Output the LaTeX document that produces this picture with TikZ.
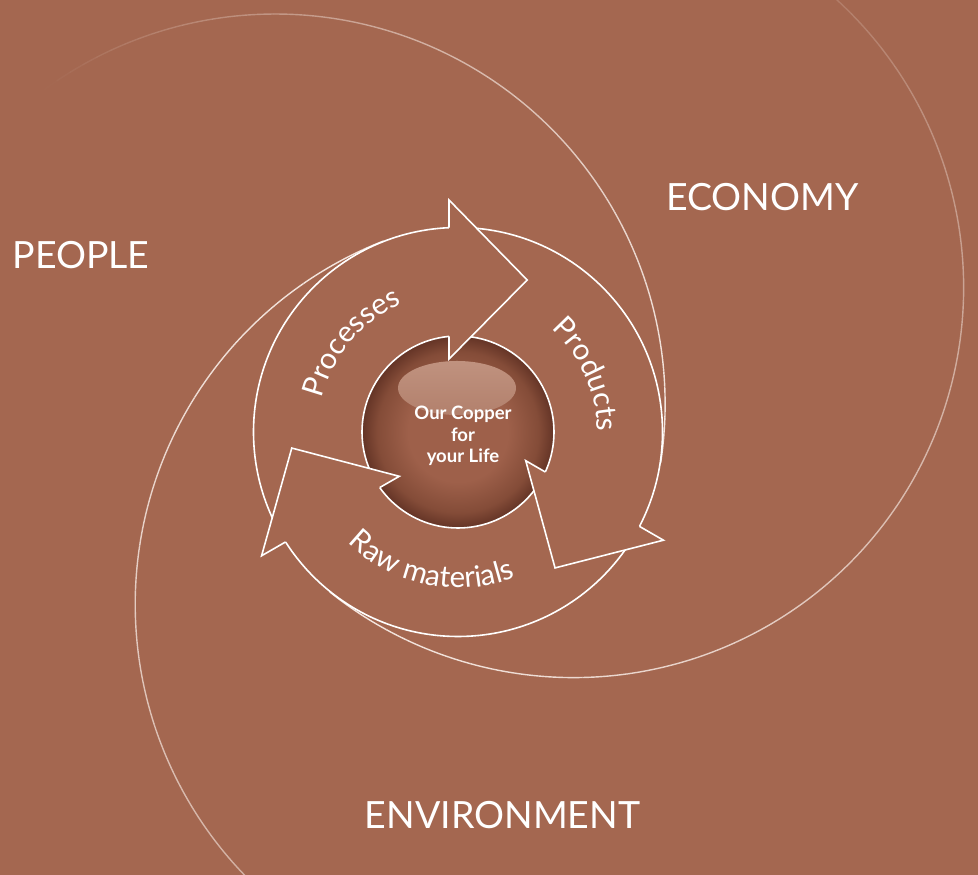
\documentclass[tikz,border=0pt]{standalone}
\usepackage{fontspec}
\setmainfont{Lato}
\usetikzlibrary{decorations.text}
\definecolor{bg}{RGB}{164,103,80}
\definecolor{sphA}{RGB}{158,96,74}
\definecolor{sphM}{RGB}{132,76,56}
\definecolor{sphB}{RGB}{100,52,38}
\definecolor{hiA}{RGB}{192,146,127}
\definecolor{hiB}{RGB}{178,128,108}
\definecolor{swirl}{RGB}{248,236,230}
\pgfdeclareradialshading{sphereshade}{\pgfpoint{0bp}{0bp}}{color(0bp)=(sphA); color(13bp)=(sphA); color(21bp)=(sphM); color(25bp)=(sphB); color(50bp)=(sphB)}
\begin{document}
\begin{tikzpicture}[x=1pt,y=1pt,
  wline/.style={white, line width=1.6pt, line join=miter, miter limit=10},
  swirlseg/.style={swirl, line width=1.4pt, line cap=butt},
  bigword/.style={text=white, font=\fontsize{37.5}{40}\selectfont, inner sep=0pt, anchor=base},
  centertext/.style={text=white, font=\bfseries\fontsize{18.5}{21.5}\selectfont, align=center, inner sep=0pt},
  arclabel/.style={decorate, decoration={text along path, text align=center, text color=white, text={|\fontsize{29.5}{30}\selectfont|#1}}}
]
\fill[bg] (0,0) rectangle (978,875);
\useasboundingbox (0,0) rectangle (978,875);
\coordinate (O) at (458,443);
% swirls
\begin{scope}
\clip (0,0) rectangle (978,875);
\begin{scope}[shift={(O)}]
\foreach \ang/\sw in {171.3/135, 51.3/200, 291.3/200}{
  \foreach \i in {0,...,59}{
    \pgfmathsetmacro\aa{\ang+180+\sw*\i/60}
    \pgfmathsetmacro\ab{\ang+180+\sw*(\i+1)/60}
    \pgfmathsetmacro\tt{(\i+0.5)/60}
    \pgfmathsetmacro\op{0.95*(1-\tt*sqrt(\tt))}
    \draw[swirlseg, draw opacity=\op, shift={(\ang:185)}] (\aa:390) arc[start angle=\aa, end angle=\ab, radius=390];
  }
}
\end{scope}
\end{scope}
% ring
\draw[wline] (O) circle[radius=204.5];
% sphere
\shade[shading=sphereshade] (O) circle[radius=96];
\draw[wline] (O) circle[radius=96];
\shade[top color=hiA, bottom color=hiB] (457,487) ellipse[x radius=59, y radius=27];
% arrow heads
\foreach \rot in {0,-120,120}{
  \begin{scope}[shift={(O)}, rotate=\rot]
    \fill[bg] (-9,232) -- (69.2,152) -- (-9,73) -- cycle;
    \draw[wline] (-9,204.3) -- (-9,232) -- (69.2,152) -- (-9,73) -- (-9,95.6);
  \end{scope}
}
% arc labels
\begin{scope}[shift={(O)}]
\path[arclabel=Processes] (200:140) arc[start angle=200, end angle=80, radius=140];
\path[arclabel=Products] (70:139) arc[start angle=70, end angle=-22, radius=139];
\path[arclabel=Raw{ }materials] (195:156) arc[start angle=195, end angle=322, radius=156];
\end{scope}
% center text
\node[centertext] (core) at (463,439) {Our Copper\\for\\your Life};
% big words
\node[bigword] (people) at (81,606.5) {PEOPLE};
\node[bigword] (economy) at (762.5,664) {ECONOMY};
\node[bigword] (env) at (502.5,46.5) {ENVIRONMENT};
\end{tikzpicture}
\end{document}
